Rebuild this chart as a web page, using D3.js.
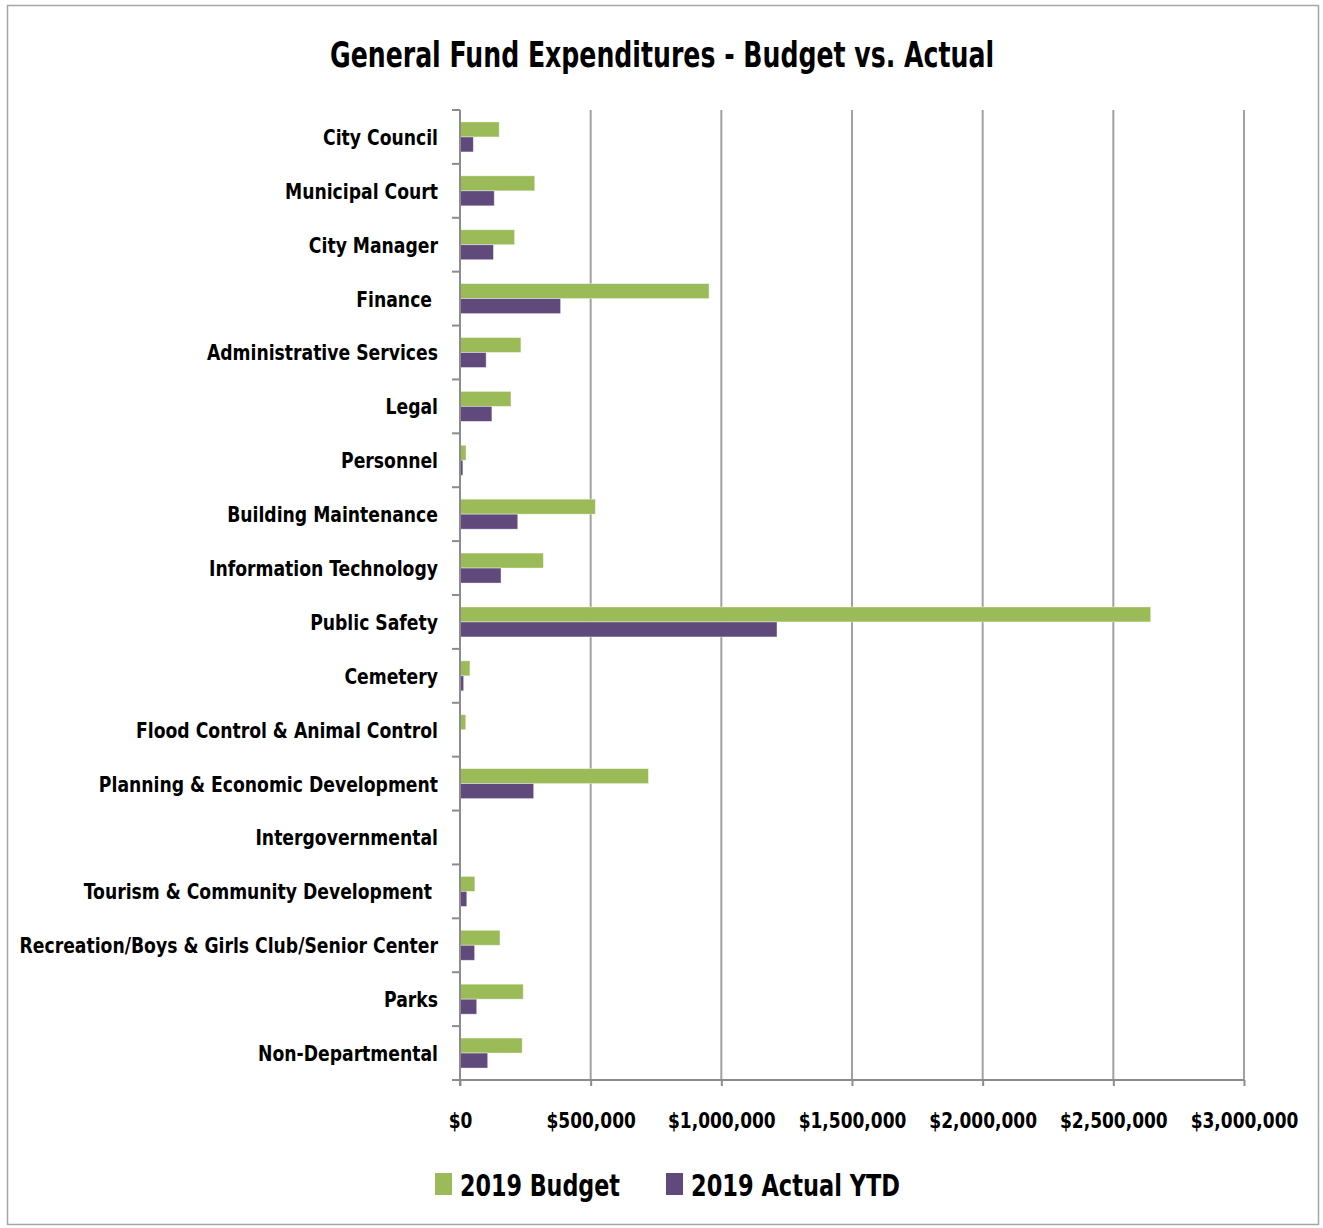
<!DOCTYPE html>
<html>
<head>
<meta charset="utf-8">
<script src="https://cdn.jsdelivr.net/npm/d3@7"></script>
<style>
  html, body { margin: 0; padding: 0; background: #fff; }
  svg text { font-family: "Liberation Sans Narrow", "Arial Narrow", "DejaVu Sans Condensed", sans-serif; font-weight: bold; fill: #000; white-space: pre; }
</style>
</head>
<body>
<svg id="chart" width="1323" height="1228"></svg>
<script>
// Departments, top to bottom
const categories = [
  "City Council", "Municipal Court", "City Manager", "Finance ",
  "Administrative Services", "Legal", "Personnel", "Building Maintenance",
  "Information Technology", "Public Safety", "Cemetery",
  "Flood Control & Animal Control", "Planning & Economic Development",
  "Intergovernmental", "Tourism & Community Development ",
  "Recreation/Boys & Girls Club/Senior Center", "Parks", "Non-Departmental"
];
// 2019 Budget (dollars)
const budget2019 = [
  150000, 286000, 209000, 953000, 233000, 195000, 23000, 518000,
  319000, 2643000, 38000, 22000, 721000, 0, 57000, 153000, 242000, 238000
];
// 2019 Actual year-to-date (dollars)
const actualYTD2019 = [
  51000, 131000, 128000, 385000, 100000, 122000, 11000, 221000,
  157000, 1213000, 14000, 1000, 282000, 0, 26000, 56000, 64000, 106000
];
const seriesNames = ["2019 Budget", "2019 Actual YTD"];
const seriesColors = ["#9BBB59", "#604A7B"];
const xTicks = [0, 500000, 1000000, 1500000, 2000000, 2500000, 3000000];

const svg = d3.select("#chart");

// squeeze text horizontally to a narrower face
function condense(sel, factor) {
  sel.each(function () {
    const w = this.getComputedTextLength();
    d3.select(this).attr("textLength", w * factor).attr("lengthAdjust", "spacingAndGlyphs");
  });
}

// outer frame
svg.append("rect").attr("x", 7.5).attr("y", 5.5).attr("width", 1311).attr("height", 1219)
  .attr("fill", "#fff").attr("stroke", "#A6A6A6").attr("stroke-width", 1.5);

// title
svg.append("text").attr("x", 662).attr("y", 67).attr("text-anchor", "middle")
  .style("font-size", "36px").attr("textLength", 664).attr("lengthAdjust", "spacingAndGlyphs")
  .text("General Fund Expenditures - Budget vs. Actual");

const x = d3.scaleLinear().domain([0, 3000000]).range([460, 1244]);
const y = d3.scaleBand().domain(categories).range([110, 1080]);
const inner = d3.scaleBand().domain(seriesNames).range([0, 30]);
const groupOffset = (y.bandwidth() - 30) / 2;

// vertical gridlines
svg.append("g").selectAll("line").data(xTicks.slice(1)).join("line")
  .attr("x1", d => x(d)).attr("x2", d => x(d))
  .attr("y1", 110).attr("y2", 1080)
  .attr("stroke", "#A0A0A0").attr("stroke-width", 2);

// bars
const rows = categories.map((c, i) => ({ c, vals: [budget2019[i], actualYTD2019[i]] }));
const groups = svg.append("g").selectAll("g").data(rows).join("g")
  .attr("transform", d => `translate(0,${y(d.c) + groupOffset})`);
groups.selectAll("rect").data(d => d.vals.map((v, k) => ({ v, k }))).join("rect")
  .attr("x", x(0))
  .attr("y", d => inner(seriesNames[d.k]))
  .attr("width", d => x(d.v) - x(0))
  .attr("height", inner.bandwidth())
  .attr("fill", d => seriesColors[d.k])
  .attr("stroke", d => d.v > 0 ? "rgba(255,255,255,0.5)" : "none")
  .attr("stroke-width", 0.8);

// category axis
const yAxis = d3.axisLeft(y).tickSize(0).tickPadding(22);
const yg = svg.append("g").attr("transform", `translate(${x(0)},0)`).call(yAxis);
yg.select(".domain").remove();
yg.selectAll("text").style("font-size", "22px").attr("dy", "0.36em").call(condense, 0.87);
// boundary ticks between categories
const bounds = categories.map(c => y(c)).concat([1080]);
svg.append("g").selectAll("line").data(bounds).join("line")
  .attr("x1", 452).attr("x2", 460).attr("y1", d => d).attr("y2", d => d)
  .attr("stroke", "#8C8C8C").attr("stroke-width", 2);
svg.append("line").attr("x1", 460).attr("x2", 460).attr("y1", 110).attr("y2", 1086)
  .attr("stroke", "#8C8C8C").attr("stroke-width", 2);

// value axis
const fmt = d => "$" + d3.format(",")(d);
const xAxis = d3.axisBottom(x).tickValues(xTicks).tickFormat(fmt).tickSize(6).tickPadding(26);
const xg = svg.append("g").attr("transform", "translate(0,1080)").call(xAxis);
xg.select(".domain").attr("stroke", "#8C8C8C").attr("stroke-width", 2).attr("d", "M452,0H1244");
xg.selectAll(".tick line").attr("stroke", "#8C8C8C").attr("stroke-width", 2);
xg.selectAll("text").style("font-size", "22px").call(condense, 0.86);

// legend
const legend = svg.append("g");
const legendItems = [
  { name: seriesNames[0], color: seriesColors[0], sx: 435, tx: 460, w: 160 },
  { name: seriesNames[1], color: seriesColors[1], sx: 666, tx: 691, w: 209 }
];
legendItems.forEach(it => {
  legend.append("rect").attr("x", it.sx).attr("y", 1173).attr("width", 17).attr("height", 22).attr("fill", it.color);
  legend.append("text").attr("x", it.tx).attr("y", 1196).style("font-size", "31px")
    .attr("textLength", it.w).attr("lengthAdjust", "spacingAndGlyphs").text(it.name);
});
</script>
</body>
</html>
